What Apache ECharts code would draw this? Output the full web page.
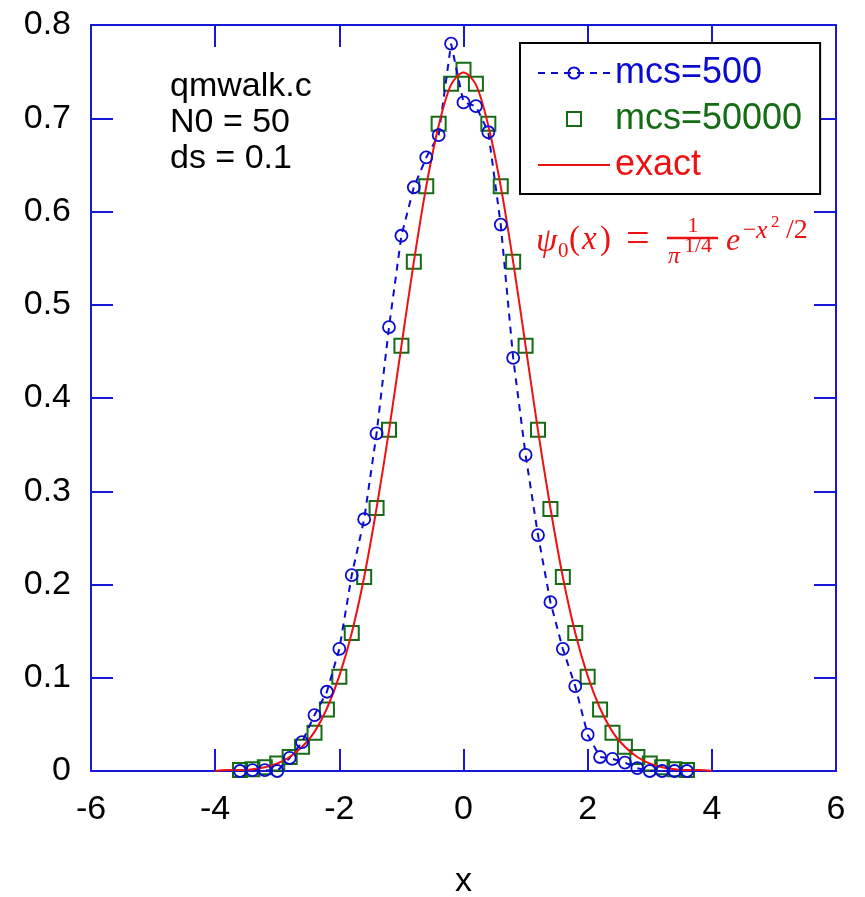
<!DOCTYPE html>
<html>
<head>
<meta charset="utf-8">
<script src="https://cdn.jsdelivr.net/npm/echarts@6/dist/echarts.min.js"></script>
<style>
  html, body { margin: 0; padding: 0; background: #fff; }
  #chart { width: 865px; height: 897px; }
</style>
</head>
<body>
<div id="chart"></div>
<script>
// x positions of the monte carlo samples
const sampleX = [-3.6, -3.4, -3.2, -3.0, -2.8, -2.6, -2.4, -2.2, -2.0, -1.8, -1.6, -1.4, -1.2,
  -1.0, -0.8, -0.6, -0.4, -0.2, 0, 0.2, 0.4, 0.6, 0.8, 1.0, 1.2, 1.4, 1.6, 1.8, 2.0, 2.2,
  2.4, 2.6, 2.8, 3.0, 3.2, 3.4, 3.6]
// mcs=500
const mcs500 = [0.000, 0.001, 0.001, 0.000, 0.014, 0.031, 0.060, 0.085, 0.131, 0.210, 0.270, 0.362, 0.476,
  0.574, 0.626, 0.658, 0.682, 0.780, 0.717, 0.713, 0.685, 0.586, 0.443, 0.339, 0.253, 0.181, 0.131, 0.091, 0.039, 0.015,
  0.013, 0.009, 0.003, 0.000, 0.000, 0.000, 0.000]
// mcs=50000
const mcs50000 = [0.001, 0.002, 0.004, 0.008, 0.015, 0.026, 0.041, 0.066, 0.101, 0.148, 0.208, 0.282, 0.366,
  0.456, 0.546, 0.627, 0.694, 0.737, 0.752, 0.737, 0.694, 0.627, 0.546, 0.456, 0.366, 0.281, 0.208, 0.148, 0.101, 0.066,
  0.041, 0.026, 0.015, 0.008, 0.004, 0.002, 0.001]
// exact curve
const exactX = [-4.0, -3.8, -3.6, -3.4, -3.2, -3.0, -2.8, -2.6, -2.4, -2.2, -2.0, -1.8, -1.6, -1.4, -1.2,
  -1.0, -0.8, -0.6, -0.4, -0.2, 0, 0.2, 0.4, 0.6, 0.8, 1.0, 1.2, 1.4, 1.6, 1.8, 2.0, 2.2,
  2.4, 2.6, 2.8, 3.0, 3.2, 3.4, 3.6, 3.8, 4.0]
const exactY = [0.000, 0.001, 0.001, 0.002, 0.004, 0.008, 0.015, 0.026, 0.042, 0.067, 0.102, 0.148, 0.208, 0.282, 0.365,
  0.456, 0.546, 0.627, 0.692, 0.736, 0.749, 0.736, 0.692, 0.627, 0.546, 0.456, 0.365, 0.282, 0.208, 0.148, 0.102, 0.067,
  0.042, 0.026, 0.015, 0.008, 0.004, 0.002, 0.001, 0.001, 0.000]
const xTicks = [-6, -4, -2, 0, 2, 4, 6]
const yTicks = [0, 0.1, 0.2, 0.3, 0.4, 0.5, 0.6, 0.7, 0.8]

const BLUE = '#0b0bd0'
const GREEN = '#146c14'
const RED = '#ee1111'
const AXIS = '#1717d6'
const FONT = '"Liberation Sans", Arial, sans-serif'
const MATH = '"Liberation Serif", "DejaVu Serif", serif'
const SQUARE = 'path://M0 0H10V10H0Z'
const HLINE = 'path://M0 0H72V2H0Z'

const pairs = (xs, ys) => xs.map((x, i) => [x, ys[i]])

const chart = echarts.init(document.getElementById('chart'))

const axisLine = { onZero: false, lineStyle: { color: AXIS, width: 2 } }
const axisTick = { inside: true, length: 22, lineStyle: { color: AXIS, width: 2 } }

// little helper for the formula pieces
const mtext = (x, y, text, font) => ({
  type: 'text', x: x, y: y,
  style: { text: text, font: font + ' ' + MATH, fill: RED, textVerticalAlign: 'middle' }
})

const option = {
  animation: false,
  grid: { left: 91, right: 29, top: 25, bottom: 126, outerBoundsMode: 'none' },
  xAxis: [
    {
      type: 'value', min: xTicks[0], max: xTicks[xTicks.length - 1], interval: 2,
      position: 'bottom',
      axisLine, axisTick,
      splitLine: { show: false },
      axisLabel: { fontSize: 34, color: '#000', fontFamily: FONT, margin: 22 },
      name: 'x', nameLocation: 'middle', nameGap: 94,
      nameTextStyle: { fontSize: 34, color: '#000', fontFamily: FONT }
    },
    {
      type: 'value', min: xTicks[0], max: xTicks[xTicks.length - 1], interval: 2,
      position: 'top',
      axisLine, axisTick,
      splitLine: { show: false },
      axisLabel: { show: false }
    }
  ],
  yAxis: [
    {
      type: 'value', min: yTicks[0], max: yTicks[yTicks.length - 1], interval: 0.1,
      position: 'left',
      axisLine, axisTick,
      splitLine: { show: false },
      axisLabel: { fontSize: 34, color: '#000', fontFamily: FONT, margin: 20 }
    },
    {
      type: 'value', min: yTicks[0], max: yTicks[yTicks.length - 1], interval: 0.1,
      position: 'right',
      axisLine, axisTick,
      splitLine: { show: false },
      axisLabel: { show: false }
    }
  ],
  legend: {
    orient: 'vertical',
    left: 520, top: 43,
    backgroundColor: '#fff',
    borderColor: '#000', borderWidth: 2,
    padding: [12, 18, 11, 17],
    itemWidth: 72, itemHeight: 14, itemGap: 10,
    symbolKeepAspect: true,
    textStyle: { fontSize: 36, fontFamily: FONT, lineHeight: 36 },
    data: [
      { name: 'mcs=500', textStyle: { color: BLUE } },
      { name: 'mcs=50000', icon: SQUARE, textStyle: { color: GREEN } },
      { name: 'exact', icon: HLINE, itemStyle: { color: RED }, textStyle: { color: RED } }
    ]
  },
  series: [
    {
      name: 'mcs=500', type: 'line',
      data: pairs(sampleX, mcs500),
      symbol: 'circle', symbolSize: 12,
      itemStyle: { color: 'rgba(0,0,0,0)', borderColor: BLUE, borderWidth: 1.8 },
      lineStyle: { color: BLUE, width: 2, type: [7, 6] }
    },
    {
      name: 'mcs=50000', type: 'scatter',
      data: pairs(sampleX, mcs50000),
      symbol: 'rect', symbolSize: 14,
      itemStyle: { color: 'rgba(0,0,0,0)', borderColor: GREEN, borderWidth: 2, opacity: 1 }
    },
    {
      name: 'exact', type: 'line',
      data: pairs(exactX, exactY),
      smooth: 0.3, showSymbol: false,
      itemStyle: { color: RED },
      lineStyle: { color: RED, width: 2 }
    }
  ],
  graphic: [
    {
      type: 'text', x: 170, y: 69,
      style: { text: 'qmwalk.c\nN0 = 50\nds = 0.1', font: '34px ' + FONT, fill: '#000', lineHeight: 36 }
    },
    // psi_0(x) = 1/pi^(1/4) e^(-x^2/2)
    mtext(536, 242, 'ψ', 'italic 34px'),
    mtext(558, 251, '0', '21px'),
    mtext(569, 240, '(', '33px'),
    mtext(582, 240, 'x', 'italic 33px'),
    mtext(600, 240, ')', '33px'),
    mtext(626, 240, '=', '42px'),
    {
      type: 'text', x: 693, y: 226,
      style: { text: '1', font: '22px ' + MATH, fill: RED, textAlign: 'center', textVerticalAlign: 'middle' }
    },
    { type: 'line', shape: { x1: 667, y1: 238, x2: 718, y2: 238 }, style: { stroke: RED, lineWidth: 2.5 } },
    mtext(668, 257, 'π', 'italic 24px'),
    mtext(684, 246, '1/4', '22px'),
    mtext(726, 242, 'e', 'italic 32px'),
    mtext(743, 231, '−', '24px'),
    mtext(756, 231, 'x', 'italic 26px'),
    mtext(771, 223, '2', '17px'),
    mtext(786, 231, '/2', '28px')
  ]
}

chart.setOption(option)
</script>
</body>
</html>
